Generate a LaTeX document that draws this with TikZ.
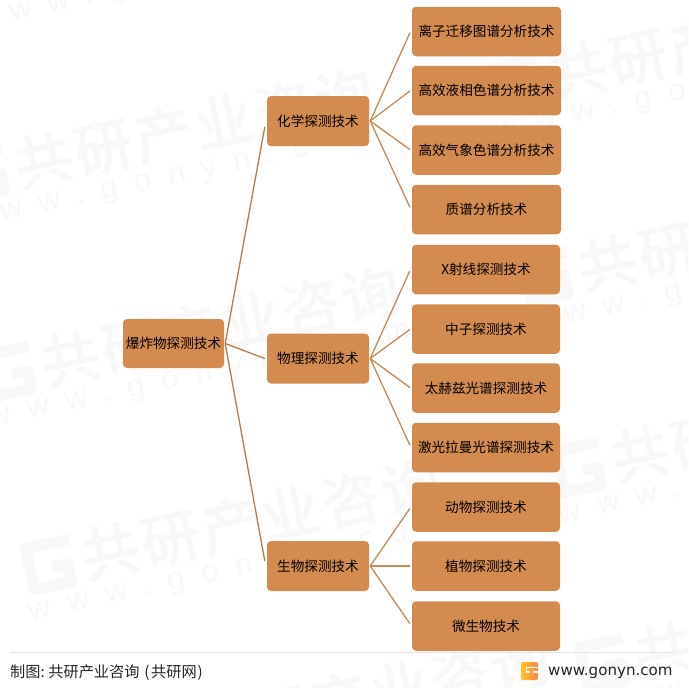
\documentclass[tikz,border=0pt]{standalone}
\usepackage{fontspec}
\setmainfont{Noto Sans CJK SC}
\newfontfamily\wmcjk[LetterSpace=6,FakeBold=2.5]{Noto Sans CJK SC}
\newfontfamily\wmlat[LetterSpace=55]{Liberation Sans}
\newfontfamily\urlfont{DejaVu Sans}
\usetikzlibrary{calc}
\definecolor{boxfill}{HTML}{D38B4F}
\definecolor{edgeA}{HTML}{B47C4C}
\definecolor{edgeB}{HTML}{C88A55}
\definecolor{wmgray}{HTML}{F8F8F8}
\tikzset{
  x=1pt,y=-1pt,
  boxbase/.style={fill=boxfill,rounded corners=4pt,inner sep=0pt,text=black,
    font=\fontsize{13.6pt}{16pt}\selectfont},
  rootbox/.style={boxbase,minimum width=101pt,minimum height=49pt},
  midbox/.style={boxbase,minimum width=102pt,minimum height=50pt},
  leafbox/.style={boxbase,minimum width=149pt,minimum height=49.5pt},
  leafboxb/.style={boxbase,minimum width=148pt,minimum height=49.5pt},
  rootedge/.style={draw=edgeA,line width=1.3pt},
  leafedge/.style={draw=edgeB,line width=1.3pt},
  wmcn/.style={text=wmgray,inner sep=0pt,anchor=west,transform shape,
    font=\fontsize{58pt}{62pt}\wmcjk},
  wmen/.style={text=wmgray,inner sep=0pt,anchor=west,transform shape,
    font=\fontsize{31pt}{36pt}\wmlat},
  wmlogo/.style={draw=wmgray,line width=11pt,line join=round},
}
\newcommand{\wmblock}[3]{%
  \begin{scope}[shift={(#2,#3)},rotate=12]
    \draw[wmlogo] (-38,-20) -- (-82,-20) -- (-82,22) -- (-44,22) -- (-44,4) -- (-60,4);
    \node[wmcn] (#1cn) at (-29,0) {共研产业咨询};
    \node[wmen] (#1en) at (-92,46) {www.gonyn.com};
  \end{scope}}
\begin{document}
\begin{tikzpicture}
\useasboundingbox (0,0) rectangle (688,688);
\begin{scope}
\clip (0,0) rectangle (688,688);
\fill[white] (0,0) rectangle (688,688);
\wmblock{wa}{43}{160}
\wmblock{wb}{577}{70}
\wmblock{wc}{52}{-40}
\wmblock{wd}{70}{358}
\wmblock{we}{607}{263}
\wmblock{wf}{110}{551}
\wmblock{wg}{640}{454}
\wmblock{wh}{664}{650}
\wmblock{wi}{219}{727}
\end{scope}

\draw[draw=black!10,line width=1pt] (10,652.5) coordinate (ruleL) -- (675,652.5) coordinate (ruleR);

\node[rootbox] (root) at (173.5,343.5) {爆炸物探测技术};
\node[midbox] (m1) at (318,121) {化学探测技术};
\node[midbox] (m2) at (318,358.5) {物理探测技术};
\node[midbox] (m3) at (318,566) {生物探测技术};

\node[leafbox] (l1) at (486.5,31.5) {离子迁移图谱分析技术};
\node[leafbox] (l2) at (486.5,90.5) {高效液相色谱分析技术};
\node[leafbox] (l3) at (486.5,150) {高效气象色谱分析技术};
\node[leafbox] (l4) at (486.5,209.5) {质谱分析技术};
\node[leafboxb] (l5) at (486,269.5) {X射线探测技术};
\node[leafboxb] (l6) at (486,329) {中子探测技术};
\node[leafboxb] (l7) at (486,388) {太赫兹光谱探测技术};
\node[leafboxb] (l8) at (486,447.5) {激光拉曼光谱探测技术};
\node[leafboxb] (l9) at (486,507) {动物探测技术};
\node[leafboxb] (l10) at (486,566) {植物探测技术};
\node[leafboxb] (l11) at (486,626) {微生物技术};

\draw[rootedge] ($(root.east)+(1,0)$) -- ($(m1.west)+(-2,6)$);
\draw[rootedge] ($(root.east)+(1,0)$) -- ($(m2.west)+(-2,0)$);
\draw[rootedge] ($(root.east)+(1,0)$) -- ($(m3.west)+(-2,-5)$);

\draw[leafedge] ($(m1.east)+(1,0)$) -- ($(l1.west)+(-2,1.5)$);
\draw[leafedge] ($(m1.east)+(1,0)$) -- ($(l2.west)+(-2,0.5)$);
\draw[leafedge] ($(m1.east)+(1,0)$) -- ($(l3.west)+(-2,-0.5)$);
\draw[leafedge] ($(m1.east)+(1,0)$) -- ($(l4.west)+(-2,-2.5)$);
\draw[leafedge] ($(m2.east)+(1,0)$) -- ($(l5.west)+(-2,1.5)$);
\draw[leafedge] ($(m2.east)+(1,0)$) -- ($(l6.west)+(-2,0.5)$);
\draw[leafedge] ($(m2.east)+(1,0)$) -- ($(l7.west)+(-2,-0.5)$);
\draw[leafedge] ($(m2.east)+(1,0)$) -- ($(l8.west)+(-2,-2.5)$);
\draw[leafedge] ($(m3.east)+(1,0)$) -- ($(l9.west)+(-2,1.5)$);
\draw[leafedge,line width=1.8pt] ($(m3.east)+(1,0)$) -- ($(l10.west)+(-2,0)$);
\draw[leafedge] ($(m3.east)+(1,0)$) -- ($(l11.west)+(-2,-2.5)$);

\node[anchor=base west,inner sep=0pt,text=black!85,font=\fontsize{15.2pt}{17pt}\selectfont] (src) at (10,677) {制图:\hspace{-1pt} 共研产业咨询\hspace{1.5pt} (\hspace{1.5pt}共研网\hspace{1pt})};
\shade[left color=orange!55!yellow!85!white,right color=red!35!orange!70!white,rounded corners=2pt] (521,662) rectangle (538,680);
\draw[white,line width=1.5pt] (538.5,667.5) -- (526.5,667.5) -- (526.5,672) -- (530,672);
\draw[white,line width=1.5pt] (538.5,672) -- (533,672);
\node[anchor=base west,inner sep=0pt,text=black!85,font=\fontsize{15.1pt}{17pt}\urlfont] (url) at (548,675) {www.gonyn.com};
\end{tikzpicture}
\end{document}
